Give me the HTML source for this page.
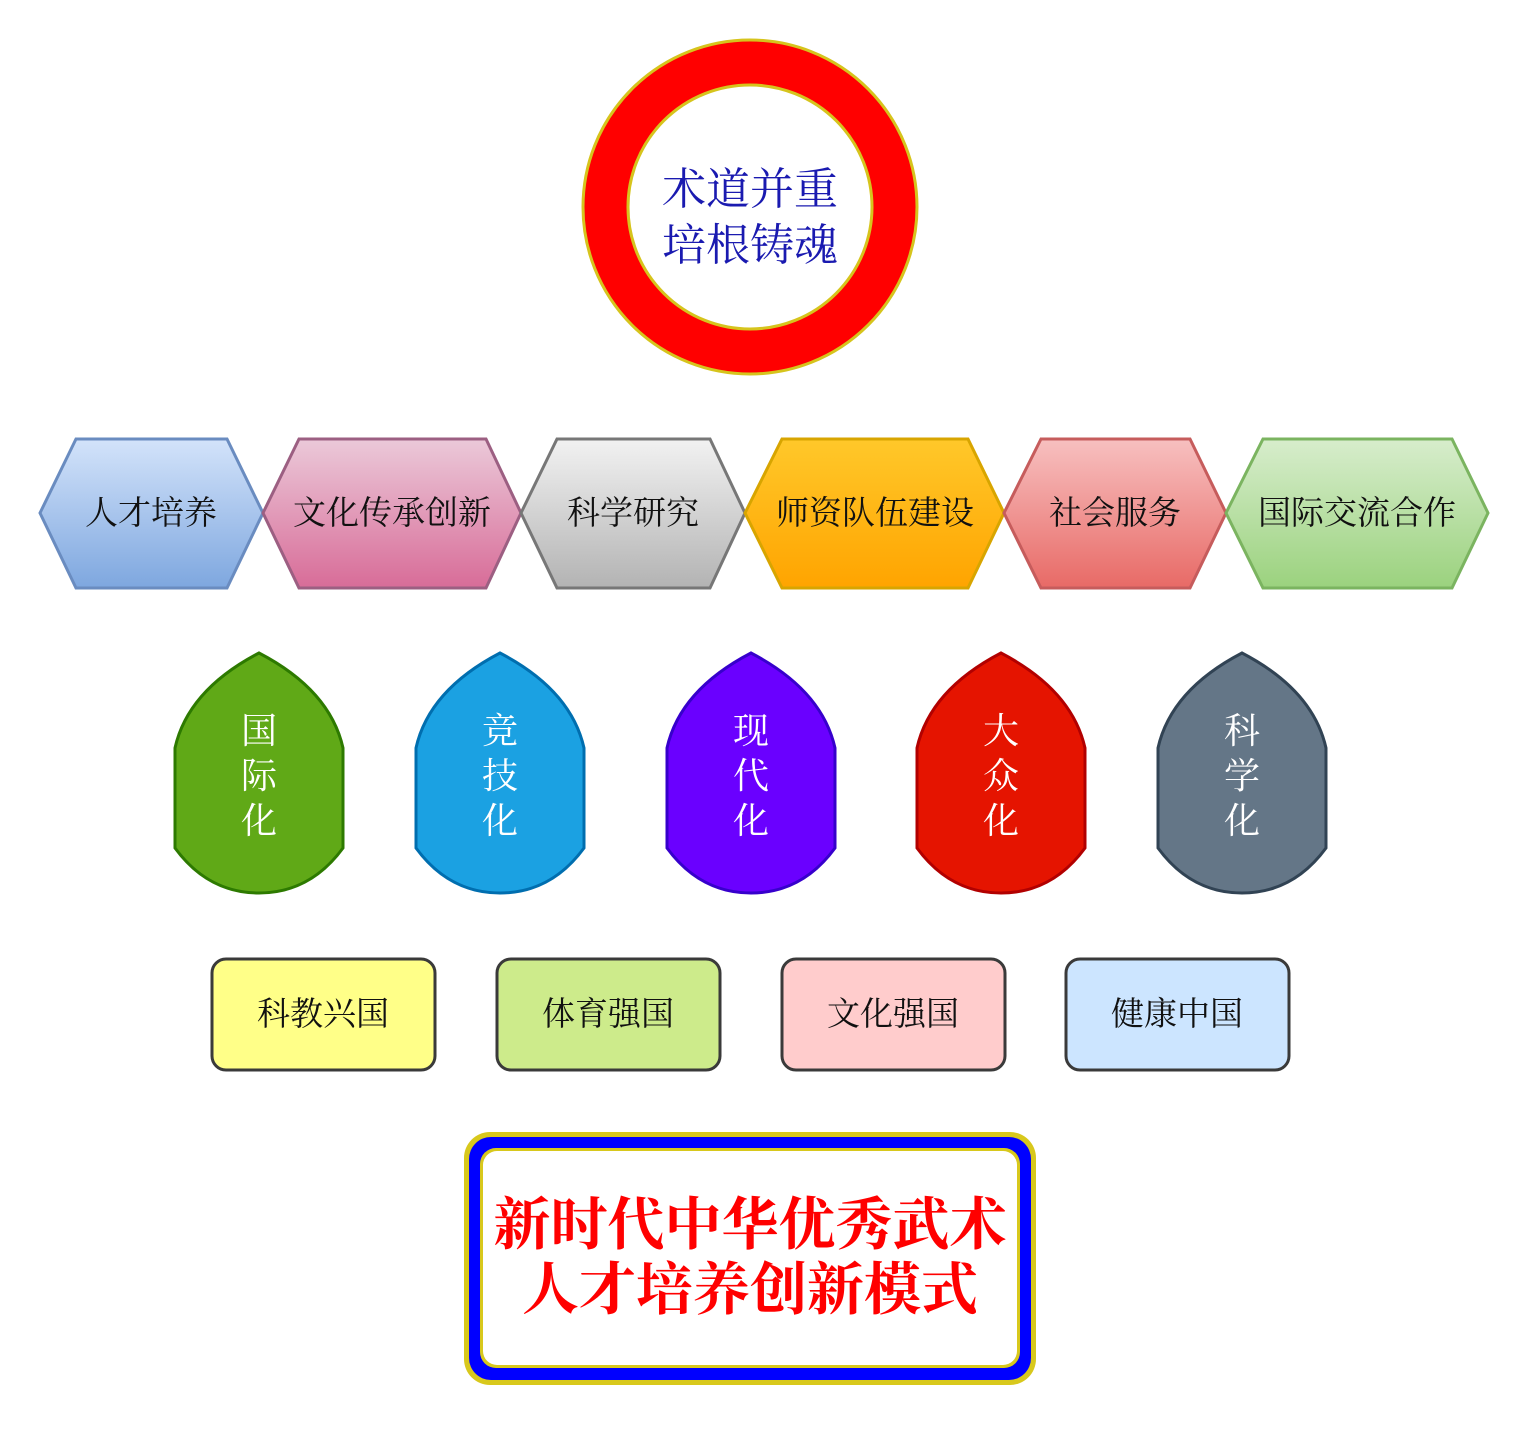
<!DOCTYPE html>
<html><head><meta charset="utf-8"><style>
html,body{margin:0;padding:0;background:#fff}
svg text{font-family:"Liberation Serif","Noto Serif CJK SC",serif}
</style></head><body>
<svg width="1526" height="1424" viewBox="0 0 1526 1424" xmlns="http://www.w3.org/2000/svg">
<defs>
<linearGradient id="g1" x1="0" y1="0" x2="0" y2="1"><stop offset="0" stop-color="#d3e3fa"/><stop offset="1" stop-color="#7ea7df"/></linearGradient>
<linearGradient id="g2" x1="0" y1="0" x2="0" y2="1"><stop offset="0" stop-color="#ebc9d9"/><stop offset="1" stop-color="#d86c98"/></linearGradient>
<linearGradient id="g3" x1="0" y1="0" x2="0" y2="1"><stop offset="0" stop-color="#f2f2f2"/><stop offset="1" stop-color="#b3b3b3"/></linearGradient>
<linearGradient id="g4" x1="0" y1="0" x2="0" y2="1"><stop offset="0" stop-color="#ffc82a"/><stop offset="1" stop-color="#ffa400"/></linearGradient>
<linearGradient id="g5" x1="0" y1="0" x2="0" y2="1"><stop offset="0" stop-color="#f7c0c0"/><stop offset="1" stop-color="#e86a66"/></linearGradient>
<linearGradient id="g6" x1="0" y1="0" x2="0" y2="1"><stop offset="0" stop-color="#d7edcc"/><stop offset="1" stop-color="#9bd27e"/></linearGradient>
</defs>
<circle cx="750" cy="207" r="145" fill="none" stroke="#ff0000" stroke-width="44"/>
<circle cx="750" cy="207" r="167" fill="none" stroke="#d6c41c" stroke-width="3"/>
<circle cx="750" cy="207" r="122" fill="none" stroke="#d6c41c" stroke-width="3"/>
<text x="750" y="204" font-size="44" fill="#1a1ab0" text-anchor="middle">术道并重</text>
<text x="750" y="260" font-size="44" fill="#1a1ab0" text-anchor="middle">培根铸魂</text>

<g stroke-width="3" font-size="33" text-anchor="middle">
<polygon points="40,513 76,439 227,439 263,513 227,588 76,588" fill="url(#g1)" stroke="#6a8cc0"/>
<polygon points="263,513 299,439 486,439 521,513 486,588 299,588" fill="url(#g2)" stroke="#9c5f82"/>
<polygon points="521,513 557,439 710,439 745,513 710,588 557,588" fill="url(#g3)" stroke="#777"/>
<polygon points="745,513 782,439 968,439 1004,513 968,588 782,588" fill="url(#g4)" stroke="#d8a500"/>
<polygon points="1004,513 1041,439 1190,439 1226,513 1190,588 1041,588" fill="url(#g5)" stroke="#c65c5c"/>
<polygon points="1226,513 1263,439 1452,439 1488,513 1452,588 1263,588" fill="url(#g6)" stroke="#7bb460"/>
<g stroke="none" fill="#111">
<text x="151" y="524">人才培养</text>
<text x="392" y="524">文化传承创新</text>
<text x="633" y="524">科学研究</text>
<text x="875" y="524">师资队伍建设</text>
<text x="1115" y="524">社会服务</text>
<text x="1357" y="524">国际交流合作</text>
</g>
</g>

<g stroke-width="3">
<path d="M259,653 Q330,690 343,748 L343,848 Q310,893 259,893 Q208,893 175,848 L175,748 Q188,690 259,653 Z" fill="#60a917" stroke="#2d7a00"/>
<path d="M500,653 Q571,690 584,748 L584,848 Q551,893 500,893 Q449,893 416,848 L416,748 Q429,690 500,653 Z" fill="#1ba1e2" stroke="#006eaf"/>
<path d="M751,653 Q822,690 835,748 L835,848 Q802,893 751,893 Q700,893 667,848 L667,748 Q680,690 751,653 Z" fill="#6a00ff" stroke="#3700cc"/>
<path d="M1001,653 Q1072,690 1085,748 L1085,848 Q1052,893 1001,893 Q950,893 917,848 L917,748 Q930,690 1001,653 Z" fill="#e51400" stroke="#b20000"/>
<path d="M1242,653 Q1313,690 1326,748 L1326,848 Q1293,893 1242,893 Q1191,893 1158,848 L1158,748 Q1171,690 1242,653 Z" fill="#647687" stroke="#314354"/>
</g>
<g font-size="36" fill="#fff" text-anchor="middle">
<text x="259" y="743">国</text><text x="259" y="788">际</text><text x="259" y="833">化</text>
<text x="500" y="743">竞</text><text x="500" y="788">技</text><text x="500" y="833">化</text>
<text x="751" y="743">现</text><text x="751" y="788">代</text><text x="751" y="833">化</text>
<text x="1001" y="743">大</text><text x="1001" y="788">众</text><text x="1001" y="833">化</text>
<text x="1242" y="743">科</text><text x="1242" y="788">学</text><text x="1242" y="833">化</text>
</g>

<g stroke="#3a3a3a" stroke-width="3">
<rect x="212" y="959" width="223" height="111" rx="14" fill="#ffff88"/>
<rect x="497" y="959" width="223" height="111" rx="14" fill="#cdeb8b"/>
<rect x="782" y="959" width="223" height="111" rx="14" fill="#ffcccc"/>
<rect x="1066" y="959" width="223" height="111" rx="14" fill="#cce5ff"/>
</g>
<g font-size="33" fill="#111" text-anchor="middle">
<text x="323" y="1025">科教兴国</text>
<text x="608" y="1025">体育强国</text>
<text x="893" y="1025">文化强国</text>
<text x="1177" y="1025">健康中国</text>
</g>

<rect x="464" y="1132" width="572" height="253" rx="26" fill="#d8c81c"/>
<rect x="469" y="1137" width="562" height="243" rx="22" fill="#0000ff"/>
<rect x="480" y="1148" width="540" height="220" rx="16" fill="#d8c81c"/>
<rect x="483" y="1151" width="534" height="214" rx="14" fill="#fff"/>
<text x="750" y="1244" font-size="57" font-weight="bold" fill="#ff0000" text-anchor="middle">新时代中华优秀武术</text>
<text x="750" y="1309" font-size="57" font-weight="bold" fill="#ff0000" text-anchor="middle">人才培养创新模式</text>
</svg>
</body></html>
